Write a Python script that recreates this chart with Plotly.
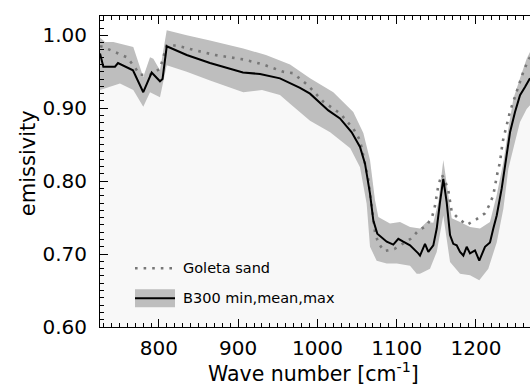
import plotly.graph_objects as go

# ---- data ----
mean_wn = [725.6, 729.8, 744.5, 748.3, 767.2, 780.2, 790.8, 801.3, 804.5, 809.8, 835.0, 864.4, 906.0,
           927.5, 952.7, 978.0, 990.6, 1013.7, 1028.4, 1043.2, 1053.7, 1060.0, 1066.3, 1070.5, 1075.5,
           1087.4, 1095.7, 1102.0, 1108.3, 1116.8, 1127.2, 1129.4, 1135.7, 1139.9, 1146.2, 1150.5,
           1154.6, 1158.8, 1163.1, 1167.3, 1171.4, 1175.7, 1179.9, 1184.1, 1188.3, 1192.5, 1198.8,
           1204.2, 1211.4, 1217.7, 1221.9, 1226.2, 1232.5, 1238.8, 1243.0, 1249.3, 1255.6, 1261.9, 1268.2]
mean_em = [0.975, 0.957, 0.957, 0.962, 0.952, 0.922, 0.949, 0.937, 0.940, 0.985, 0.973, 0.962, 0.949,
           0.947, 0.941, 0.928, 0.920, 0.897, 0.886, 0.867, 0.847, 0.824, 0.783, 0.746, 0.728,
           0.717, 0.713, 0.721, 0.717, 0.712, 0.701, 0.698, 0.714, 0.703, 0.712, 0.735,
           0.771, 0.803, 0.771, 0.726, 0.714, 0.712, 0.703, 0.698, 0.710, 0.701, 0.705,
           0.691, 0.710, 0.716, 0.735, 0.753, 0.790, 0.840, 0.867, 0.895, 0.918, 0.929, 0.941]

max_wn = [725.6, 731.9, 742.4, 767.6, 780.2, 788.7, 792.9, 801.3, 809.8, 835.0, 864.4, 906.4, 935.0,
          965.4, 990.6, 1020.0, 1045.2, 1057.9, 1066.3, 1072.6, 1076.8, 1091.5, 1104.2, 1116.8,
          1129.4, 1137.8, 1146.2, 1152.5, 1158.8, 1165.1, 1169.4, 1179.9, 1192.5, 1205.1, 1217.7,
          1226.2, 1234.6, 1240.9, 1247.2, 1255.6, 1264.0, 1268.2]
max_em = [0.997, 0.991, 0.991, 0.984, 0.943, 0.970, 0.968, 0.952, 1.007, 1.000, 0.993, 0.982, 0.973,
          0.960, 0.941, 0.922, 0.895, 0.866, 0.829, 0.774, 0.751, 0.742, 0.744, 0.737,
          0.735, 0.744, 0.743, 0.771, 0.829, 0.781, 0.749, 0.744, 0.737, 0.735, 0.744,
          0.781, 0.826, 0.872, 0.913, 0.941, 0.968, 0.977]

min_wn = [725.6, 750.8, 767.6, 780.2, 788.7, 801.3, 809.8, 835.0, 864.4, 906.4, 930.0, 952.7,
          965.4, 990.6, 1016.0, 1041.4, 1053.7, 1062.1, 1066.3, 1074.7, 1087.4, 1100.0, 1116.8,
          1125.2, 1129.4, 1142.0, 1150.5, 1158.8, 1167.3, 1179.9, 1192.5, 1204.2, 1215.6, 1226.2,
          1234.6, 1240.9, 1249.3, 1255.6, 1264.0, 1268.2]
min_em = [0.925, 0.934, 0.925, 0.902, 0.922, 0.915, 0.959, 0.950, 0.938, 0.922, 0.925, 0.918,
          0.906, 0.883, 0.867, 0.845, 0.819, 0.769, 0.710, 0.691, 0.687, 0.687, 0.684,
          0.673, 0.673, 0.680, 0.703, 0.753, 0.689, 0.673, 0.671, 0.664, 0.680, 0.716,
          0.762, 0.817, 0.854, 0.881, 0.899, 0.904]

sand_wn = [725.6, 729.8, 748.7, 759.3, 767.6, 776.0, 788.7, 801.3, 809.8, 822.4, 847.6, 870.7, 906.4,
           931.7, 956.9, 969.5, 988.4, 1007.3, 1028.4, 1045.2, 1053.7, 1064.1, 1072.6, 1076.8,
           1084.4, 1097.0, 1117.7, 1127.3, 1137.8, 1144.9, 1148.3, 1152.5, 1156.8, 1160.9, 1165.1,
           1169.4, 1177.7, 1188.3, 1200.9, 1211.4, 1217.7, 1221.9, 1226.9, 1230.3, 1233.7, 1236.6,
           1239.5, 1242.9, 1247.1, 1251.4, 1255.6, 1259.8, 1264.8, 1268.2]
sand_em = [0.985, 0.984, 0.975, 0.970, 0.959, 0.946, 0.946, 0.954, 0.986, 0.986, 0.979, 0.973, 0.967,
           0.960, 0.950, 0.948, 0.931, 0.909, 0.893, 0.872, 0.856, 0.803, 0.730, 0.715,
           0.704, 0.707, 0.721, 0.732, 0.739, 0.752, 0.766, 0.794, 0.809, 0.801, 0.787,
           0.758, 0.749, 0.740, 0.748, 0.756, 0.769, 0.781, 0.810, 0.826, 0.854, 0.867,
           0.881, 0.895, 0.909, 0.923, 0.938, 0.950, 0.963, 0.970]

x_range = [725.6, 1268.2]
y_range = [0.60, 1.0265]
x_ticks = [800, 900, 1000, 1100, 1200]
y_ticks = [0.60, 0.70, 0.80, 0.90, 1.00]
legend_labels = ["Goleta sand", "B300 min,mean,max"]

FONT = "DejaVu Sans"
BAND = "#bebebe"
LIGHT = "#f8f8f8"

fig = go.Figure()
fig.add_trace(go.Scatter(x=max_wn, y=max_em, mode="lines", line=dict(width=0, color=BAND),
                         fill="tozeroy", fillcolor=BAND, showlegend=False, hoverinfo="skip"))
fig.add_trace(go.Scatter(x=min_wn, y=min_em, mode="lines", line=dict(width=0, color=LIGHT),
                         fill="tozeroy", fillcolor=LIGHT, showlegend=False, hoverinfo="skip"))
fig.add_trace(go.Scatter(x=sand_wn, y=sand_em, mode="lines",
                         line=dict(color="#777777", width=2.6, dash="2.6px,6px"),
                         showlegend=False))
fig.add_trace(go.Scatter(x=mean_wn, y=mean_em, mode="lines",
                         line=dict(color="black", width=2), showlegend=False))


def px2paper_x(px):
    return (px - 100) / 430.0


def px2paper_y(py):
    return (326.6 - py) / 310.6


shapes = [
    dict(type="line", xref="paper", yref="paper", x0=px2paper_x(135), x1=px2paper_x(173),
         y0=px2paper_y(268), y1=px2paper_y(268),
         line=dict(color="#777777", width=2.6, dash="2.6px,6px")),
    dict(type="rect", xref="paper", yref="paper", x0=px2paper_x(135), x1=px2paper_x(175),
         y0=px2paper_y(307), y1=px2paper_y(289), fillcolor=BAND, line=dict(width=0)),
    dict(type="line", xref="paper", yref="paper", x0=px2paper_x(135), x1=px2paper_x(175),
         y0=px2paper_y(298), y1=px2paper_y(298), line=dict(color="black", width=2)),
]
annotations = [
    dict(text=legend_labels[0], xref="paper", yref="paper", x=px2paper_x(181), y=px2paper_y(268),
         xanchor="left", yanchor="middle", showarrow=False, font=dict(family=FONT, size=14.5, color="black")),
    dict(text=legend_labels[1], xref="paper", yref="paper", x=px2paper_x(181), y=px2paper_y(298),
         xanchor="left", yanchor="middle", showarrow=False, font=dict(family=FONT, size=14.5, color="black")),
    dict(text="Wave number [cm<sup>-1</sup>]", xref="paper", yref="paper", x=px2paper_x(313),
         y=px2paper_y(372), xanchor="center", yanchor="middle", showarrow=False,
         font=dict(family=FONT, size=20.5, color="black")),
    dict(text="emissivity", xref="paper", yref="paper", x=px2paper_x(28), y=px2paper_y(163),
         xanchor="center", yanchor="middle", showarrow=False, textangle=-90,
         font=dict(family=FONT, size=21, color="black")),
]

fig.update_layout(
    width=530, height=387,
    margin=dict(l=100, r=0, t=16, b=387 - 327),
    paper_bgcolor="white", plot_bgcolor="white",
    showlegend=False,
    shapes=shapes, annotations=annotations,
    font=dict(family=FONT, color="black"),
)
fig.update_xaxes(range=x_range, tickvals=x_ticks, ticktext=[str(v) for v in x_ticks],
                 ticks="inside", ticklen=8, tickwidth=1, tickcolor="black",
                 showline=True, linecolor="black", linewidth=1, mirror="allticks",
                 showgrid=False, zeroline=False,
                 minor=dict(ticks="inside", ticklen=4, tickwidth=1, tickcolor="black", dtick=10, tick0=0,
                            showgrid=False),
                 tickfont=dict(family=FONT, size=20, color="black"), ticklabelstandoff=3)
fig.update_yaxes(range=y_range, tickvals=y_ticks, ticktext=["%.2f" % v for v in y_ticks],
                 ticks="inside", ticklen=8, tickwidth=1, tickcolor="black",
                 showline=True, linecolor="black", linewidth=1,
                 showgrid=False, zeroline=False,
                 minor=dict(ticks="inside", ticklen=4, tickwidth=1, tickcolor="black", dtick=0.01, tick0=0,
                            showgrid=False),
                 tickfont=dict(family=FONT, size=20, color="black"), ticklabelstandoff=8)

fig.write_html("out.html")
